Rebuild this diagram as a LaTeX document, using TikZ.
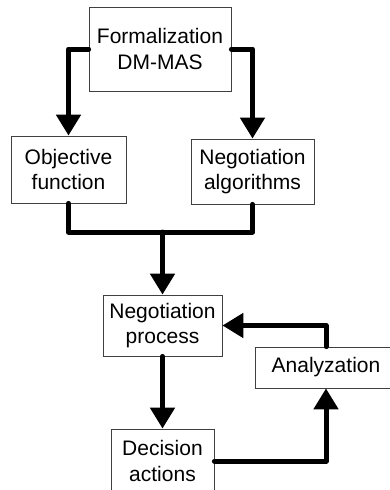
\documentclass[tikz,border=0pt]{standalone}
\usepackage{fontspec}
\setmainfont{Liberation Sans}
\usetikzlibrary{arrows.meta}
\usetikzlibrary{positioning}

\tikzset{
    block/.style={draw=black!75, line width=0.8pt, align=center, inner sep=0pt,
        font=\fontsize{21}{25.5}\selectfont},
    flow/.style={line width=5pt, line cap=round, line join=round,
        -{Triangle[width=24pt,length=21pt]}},
    link/.style={line width=5pt, line cap=round, line join=round}
}

\begin{document}
\begin{tikzpicture}[x=1pt, y=-1pt]
    \useasboundingbox (0,0) rectangle (389,490);
    \node[block, minimum width=142pt, minimum height=84pt] at (160,49) (form) {Formalization\\DM-MAS};
	\node[block, minimum width=115pt, minimum height=67pt] at (68.5,169.5) (obj) {Objective\\function};
	\node[block, minimum width=123pt, minimum height=65pt] at (252.5,171.5) (alg) {Negotiation\\algorithms};
	\node[block, minimum width=119pt, minimum height=61pt] at (162.5,325.5) (proc) {Negotiation\\process};
	\node[block, minimum width=142pt, minimum height=41pt] at (326,367.5) (anal) {Analyzation};
	\node[block, minimum width=103pt, minimum height=64pt] at (162.5,461) (dec) {Decision\\actions};
    \coordinate (join) at (162.5,232);
	\draw[flow] (form.west) -| (obj.north);
	\draw[flow] (form.east) -| (alg.north);
	\draw[link] (obj.south) |- (join) -| (alg.south);
	\draw[flow] (join) -- (proc.north);
	\draw[flow] (proc.south) -- (dec.north);
	\draw[flow] (dec.east) -| (anal.south);
	\draw[flow] (anal.north) |- (proc.east);
    \end{tikzpicture}
\end{document}
